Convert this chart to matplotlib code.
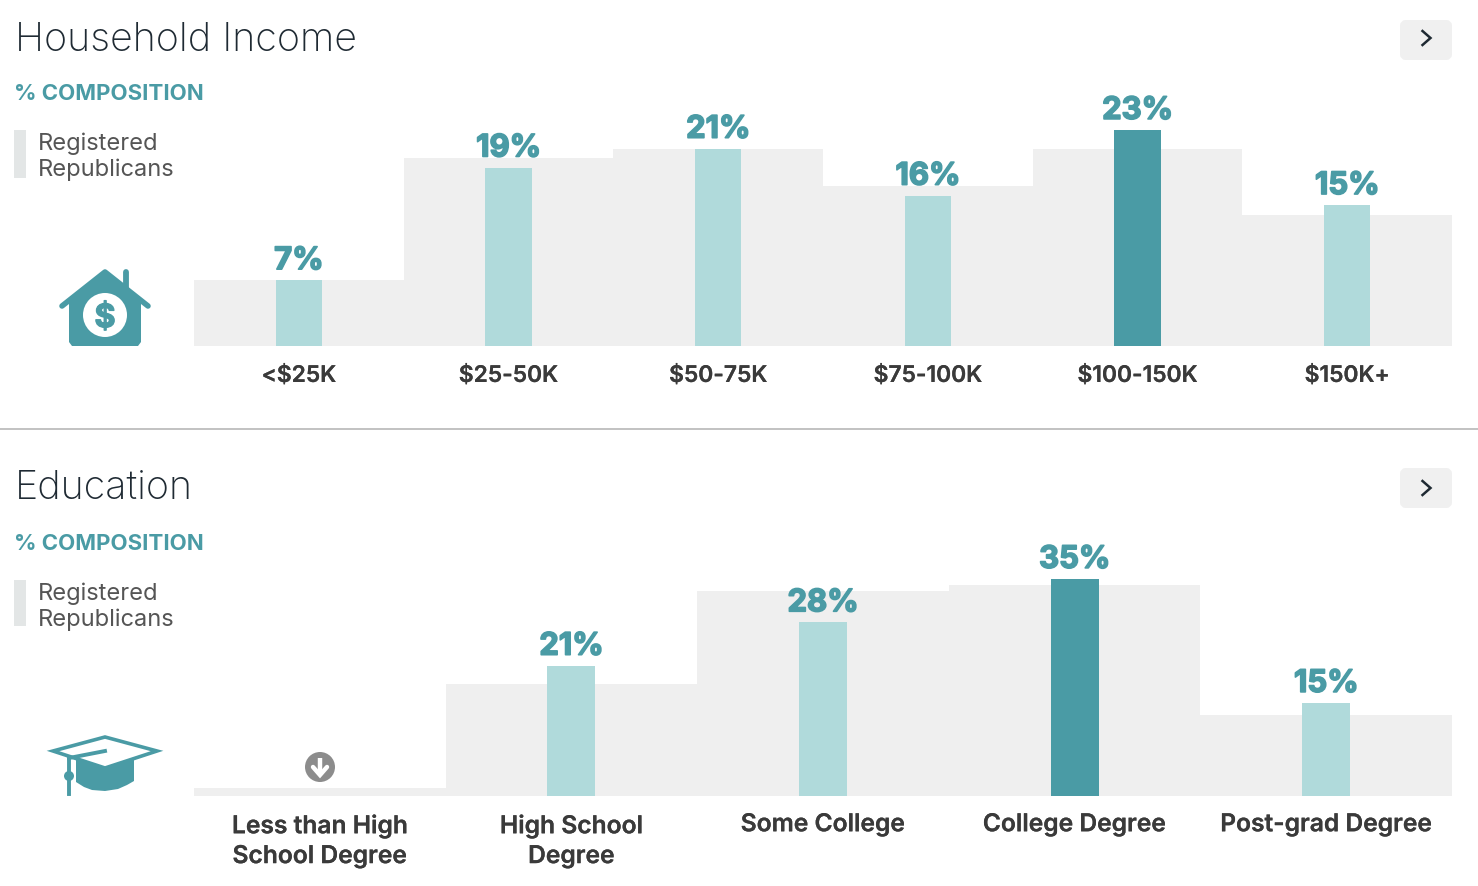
import matplotlib
matplotlib.use("Agg")
import matplotlib.pyplot as plt
import matplotlib.patheffects as pe
from matplotlib.patches import Polygon, Circle, Rectangle, FancyBboxPatch

FONT = ["Inter", "DejaVu Sans"]
plt.rcParams["font.family"] = FONT

income_cats = ["<$25K", "$25-50K", "$50-75K", "$75-100K", "$100-150K", "$150K+"]
income_group = [7, 19, 21, 16, 23, 15]
income_base = [7, 20, 21, 17, 21, 14]
edu_cats = ["Less than High\nSchool Degree", "High School\nDegree", "Some College",
            "College Degree", "Post-grad Degree"]
edu_group = [None, 21, 28, 35, 15]
edu_base = [1.3, 18, 33, 34, 13]

TEAL = "#4a9ba5"
LIGHT = "#b0dadb"
BG = "#efefef"
W, H = 1478, 886
fig = plt.figure(figsize=(W / 100, H / 100), dpi=100, facecolor="white")


def heavy(width, color):
    return [pe.withStroke(linewidth=width, foreground=color)]


def panel(left, top, bottom, right, cats, group, base, ymax, bar_w, tick_size, pad):
    ax = fig.add_axes([left / W, 1 - bottom / H, (right - left) / W, (bottom - top) / H])
    xs = list(range(len(cats)))
    ax.bar(xs, base, width=1.0, color=BG, linewidth=0)
    top_v = max(v for v in group if v is not None)
    for x, v in zip(xs, group):
        if v is None:
            continue
        ax.bar(x, v, width=bar_w, color=TEAL if v == top_v else LIGHT, linewidth=0)
        ax.annotate(f"{v}%", (x, v), xytext=(0, 8.0), textcoords="offset points",
                    ha="center", va="baseline", color=TEAL, fontsize=22.3, fontweight="bold",
                    path_effects=heavy(1.2, TEAL))
    ax.set_xlim(-0.5, len(cats) - 0.5)
    ax.set_ylim(0, ymax)
    ax.set_yticks([])
    ax.set_xticks(xs)
    labels = ax.set_xticklabels(cats, fontsize=tick_size, fontweight="semibold", color="#3a3a3a",
                                linespacing=1.38)
    for t in labels:
        t.set_path_effects(heavy(0.15, "#3a3a3a"))
    ax.tick_params(axis="x", length=0, pad=pad)
    for s in ax.spines.values():
        s.set_visible(False)
    ax.patch.set_alpha(0)
    return ax


panel(194, 100, 346, 1452, income_cats, income_group, income_base, 246 / 9.39, 0.22, 16.4, 13.6)
panel(194, 550, 796, 1452, edu_cats, edu_group, edu_base, 246 / 6.2, 0.19, 17.7, 12.4)

# Overlay in pixel coordinates for page furniture
ov = fig.add_axes([0, 0, 1, 1], zorder=5)
ov.set_xlim(0, W)
ov.set_ylim(H, 0)
ov.axis("off")
ov.patch.set_alpha(0)

ov.plot([0, W], [429, 429], color="#b8b8b8", lw=1.2)

for title, y0, swatch_h in [("Household Income", 0, 48), ("Education", 448, 46)]:
    off = y0 + (2 if y0 else 0)
    ov.text(15, y0 + 51, title, fontsize=28.4, fontweight="light", color="#1f2a33", va="baseline")
    ov.text(14, off + 100, "% COMPOSITION", fontsize=16, fontweight="bold", color=TEAL, va="baseline")
    ov.add_patch(Rectangle((14, off + 130), 12, swatch_h, color="#e3e6e6", lw=0))
    ov.text(38, off + 150, "Registered", fontsize=17, color="#555555", va="baseline")
    ov.text(38, off + 176, "Republicans", fontsize=17, color="#555555", va="baseline")
    by = 20 if y0 == 0 else 468
    ov.add_patch(FancyBboxPatch((1403, by + 3), 46, 34, boxstyle="round,pad=0,rounding_size=3",
                                mutation_aspect=1, fc="#f0f0f0", ec="#f0f0f0", lw=6 * 0.72))
    cy = by + 18 if y0 == 0 else by + 20
    ov.plot([1422.5, 1430.5, 1422.5], [cy - 7, cy, cy + 7], color="#1f2a33", lw=1.8, solid_joinstyle="miter")

# House icon
ov.add_patch(Polygon([(69, 300), (105, 272), (141, 300), (141, 342), (138, 346), (72, 346), (69, 342)],
                     color=TEAL, lw=0))
ov.plot([62, 105, 148], [306, 272, 306], color=TEAL, lw=4, solid_capstyle="round", solid_joinstyle="round")
ov.plot([126, 126], [272, 290], color=TEAL, lw=4.2, solid_capstyle="round")
ov.add_patch(Circle((105, 315), 22, color="white", lw=0))
ov.text(105, 315, "$", color=TEAL, fontsize=23, fontweight="bold", ha="center", va="center_baseline",
        path_effects=heavy(1.0, TEAL))

# Graduation cap icon
ov.add_patch(Polygon([(76, 760), (134, 760), (134, 781), (127, 785), (118, 789), (105, 791),
                      (92, 790), (84, 787), (76, 782)], color=TEAL, lw=0))
ov.add_patch(Polygon([(105, 737), (157, 751), (105, 768), (53, 751)], fc="white", ec=TEAL, lw=2.6,
                     joinstyle="miter", zorder=3))
ov.plot([69, 69], [759, 794], color=TEAL, lw=2.8, zorder=4)
ov.plot([69, 105], [758, 751], color=TEAL, lw=2.8, zorder=4)
ov.add_patch(Circle((69, 776), 5, color=TEAL, lw=0, zorder=4))

# Below-threshold marker
ov.add_patch(Circle((320, 767), 15, color="#8c8c8c", lw=0))
ov.plot([320, 320], [758, 773], color="white", lw=3.2, solid_capstyle="butt")
ov.plot([313, 320, 327], [767, 775, 767], color="white", lw=3.2, solid_joinstyle="miter", solid_capstyle="round")

fig.savefig("out.png", dpi=100, facecolor="white")
